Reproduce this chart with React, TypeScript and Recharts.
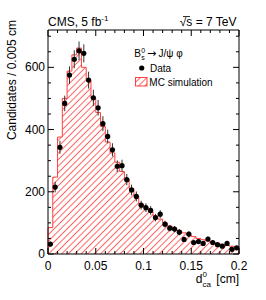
import React from "react";
import { ComposedChart, Area, Scatter, ErrorBar, XAxis, YAxis, ReferenceArea } from "recharts";

// bin width of the histogram, in cm
const BIN_WIDTH = 0.005;

// MC simulation, candidates per bin (40 bins from 0 to 0.2 cm)
const mcCounts = [
	85, 247, 376, 500, 588, 640, 662, 600, 560, 500,
	455, 410, 360, 325, 295, 265, 240, 210, 185, 160,
	150, 135, 122, 112, 100, 90, 82, 75, 68, 62,
	56, 50, 46, 42, 38, 34, 31, 28, 25, 22,
];

// data, candidates per bin
const dataCounts = [
	32, 215, 343, 484, 575, 626, 653, 645, 559, 502,
	470, 419, 378, 335, 282, 284, 239, 206, 185, 157,
	149, 140, 117, 128, 96, 83, 80, 70, 47, 64,
	37, 40, 34, 48, 37, 30, 25, 34, 15, 20,
];

const dataErrors = [
	7, 17, 21, 25, 28, 29, 30, 29, 27, 26,
	25, 24, 22, 21, 19, 19, 18, 17, 16, 14,
	14, 14, 12, 13, 11, 10, 10, 10, 8, 9,
	7, 7, 7, 8, 7, 6, 6, 7, 5, 5,
];

const xTicks = [
	0, 0.01, 0.02, 0.03, 0.04, 0.05, 0.06, 0.07, 0.08, 0.09, 0.1,
	0.11, 0.12, 0.13, 0.14, 0.15, 0.16, 0.17, 0.18, 0.19, 0.2,
];
const xMajor = [0, 0.05, 0.1, 0.15, 0.2];
const yTicks = [0, 50, 100, 150, 200, 250, 300, 350, 400, 450, 500, 550, 600, 650, 700];
const yMajor = [0, 200, 400, 600];

const W = 266;
const H = 300;
const MARGIN = { top: 30, right: 27, bottom: 0, left: 0 };
const X_AXIS_H = 46;
const Y_AXIS_W = 48;
const LEFT = MARGIN.left + Y_AXIS_W;
const RIGHT = W - MARGIN.right;
const TOP = MARGIN.top;
const BOTTOM = H - X_AXIS_H;
const FONT = "'Liberation Sans', Arial, Helvetica, sans-serif";

// histogram outline as step points on the bin edges
const histData = [
	{ x: 0, mc: 0 },
	...mcCounts.map((v, i) => ({ x: i * BIN_WIDTH, mc: v })),
	{ x: mcCounts.length * BIN_WIDTH, mc: mcCounts[mcCounts.length - 1] },
	{ x: mcCounts.length * BIN_WIDTH, mc: 0 },
];

const pointData = dataCounts.map((v, i) => ({
	x: (i + 0.5) * BIN_WIDTH,
	y: v,
	err: dataErrors[i],
}));

const XTick = (props: any) => {
	const { x, payload } = props;
	const v = payload.value;
	const major = xMajor.includes(v);
	const len = major ? 6 : 3;
	return (
		<g>
			<line x1={x} x2={x} y1={BOTTOM} y2={BOTTOM - len} stroke="#000" />
			<line x1={x} x2={x} y1={TOP} y2={TOP + len} stroke="#000" />
			{major && (
				<text x={x} y={BOTTOM + 16} textAnchor="middle" fontSize={12} fontFamily={FONT} fill="#000">
					{String(v)}
				</text>
			)}
		</g>
	);
};

const YTick = (props: any) => {
	const { y, payload } = props;
	const v = payload.value;
	const major = yMajor.includes(v);
	const len = major ? 6 : 3;
	return (
		<g>
			<line x1={LEFT} x2={LEFT + len} y1={y} y2={y} stroke="#000" />
			<line x1={RIGHT} x2={RIGHT - len} y1={y} y2={y} stroke="#000" />
			{major && (
				<text x={LEFT - 3} y={y + 4} textAnchor="end" fontSize={12} fontFamily={FONT} fill="#000">
					{String(v)}
				</text>
			)}
		</g>
	);
};

const Dot = (p: any) => <circle cx={p.cx} cy={p.cy} r={2.6} fill="#000" />;

export default function App() {
	return (
		<div style={{ position: "relative", width: W, height: H }}>
			<style>{`body{margin:0}`}</style>
			<svg width={0} height={0} style={{ position: "absolute" }}>
				<defs>
					<pattern id="hatch" patternUnits="userSpaceOnUse" width={4.6} height={4.6} patternTransform="rotate(45)">
						<line x1={2.3} y1={0} x2={2.3} y2={4.6} stroke="#ff6464" strokeWidth={1} />
					</pattern>
				</defs>
			</svg>
			<ComposedChart width={W} height={H} data={histData} margin={MARGIN}>
				<XAxis
					type="number"
					dataKey="x"
					domain={[0, 0.2]}
					ticks={xTicks}
					interval={0}
					tick={XTick}
					tickLine={false}
					axisLine={false}
					height={X_AXIS_H}
				/>
				<YAxis
					type="number"
					domain={[0, 720]}
					ticks={yTicks}
					interval={0}
					tick={YTick}
					tickLine={false}
					axisLine={false}
					width={Y_AXIS_W}
				/>
				<Area
					type="stepAfter"
					dataKey="mc"
					stroke="#ff4040"
					strokeWidth={1}
					fill="url(#hatch)"
					fillOpacity={1}
					dot={false}
					activeDot={false}
					isAnimationActive={false}
				/>
				<Scatter data={pointData} dataKey="y" shape={Dot} isAnimationActive={false}>
					<ErrorBar dataKey="err" direction="y" width={0} stroke="#333" strokeWidth={1} />
				</Scatter>
				<ReferenceArea x1={0} x2={0.2} y1={0} y2={720} fill="none" stroke="#000" strokeWidth={1} />
			</ComposedChart>
			<svg
				width={W}
				height={H}
				style={{ position: "absolute", left: 0, top: 0, pointerEvents: "none" }}
				fontFamily={FONT}
			>
				<text x={LEFT} y={26} fontSize={12}>
					CMS, 5 fb
					<tspan dy={-5} fontSize={8}>-1</tspan>
				</text>
				<text x={236.5} y={26} fontSize={12} textAnchor="end">
					√s = 7 TeV
				</text>
				<line x1={183} x2={190} y1={16.5} y2={16.5} stroke="#000" strokeWidth={0.8} />
				<text transform="rotate(-90)" x={-20} y={16} fontSize={12} textAnchor="end">
					Candidates / 0.005 cm
				</text>
				<text x={195.7} y={283} fontSize={12}>d</text>
				<text x={202.5} y={277} fontSize={8}>0</text>
				<text x={202.5} y={286.5} fontSize={8}>ca</text>
				<text x={RIGHT} y={283} fontSize={12} textAnchor="end">[cm]</text>

				<text x={134.3} y={57} fontSize={10}>B</text>
				<text x={141.2} y={53} fontSize={7}>0</text>
				<text x={141.2} y={59.5} fontSize={7}>s</text>
				<text x={147} y={57} fontSize={11} fontFamily="'DejaVu Sans', sans-serif">→</text>
				<text x={158.5} y={57} fontSize={10}>J/ψ φ</text>
				<circle cx={141.7} cy={68} r={2.6} fill="#000" />
				<text x={150} y={71.5} fontSize={10}>Data</text>
				<rect x={135.5} y={77.5} width={11.5} height={8.5} fill="url(#hatch)" stroke="#ff4040" strokeWidth={1} />
				<text x={149.3} y={85.5} fontSize={10}>MC simulation</text>
			</svg>
		</div>
	);
}
